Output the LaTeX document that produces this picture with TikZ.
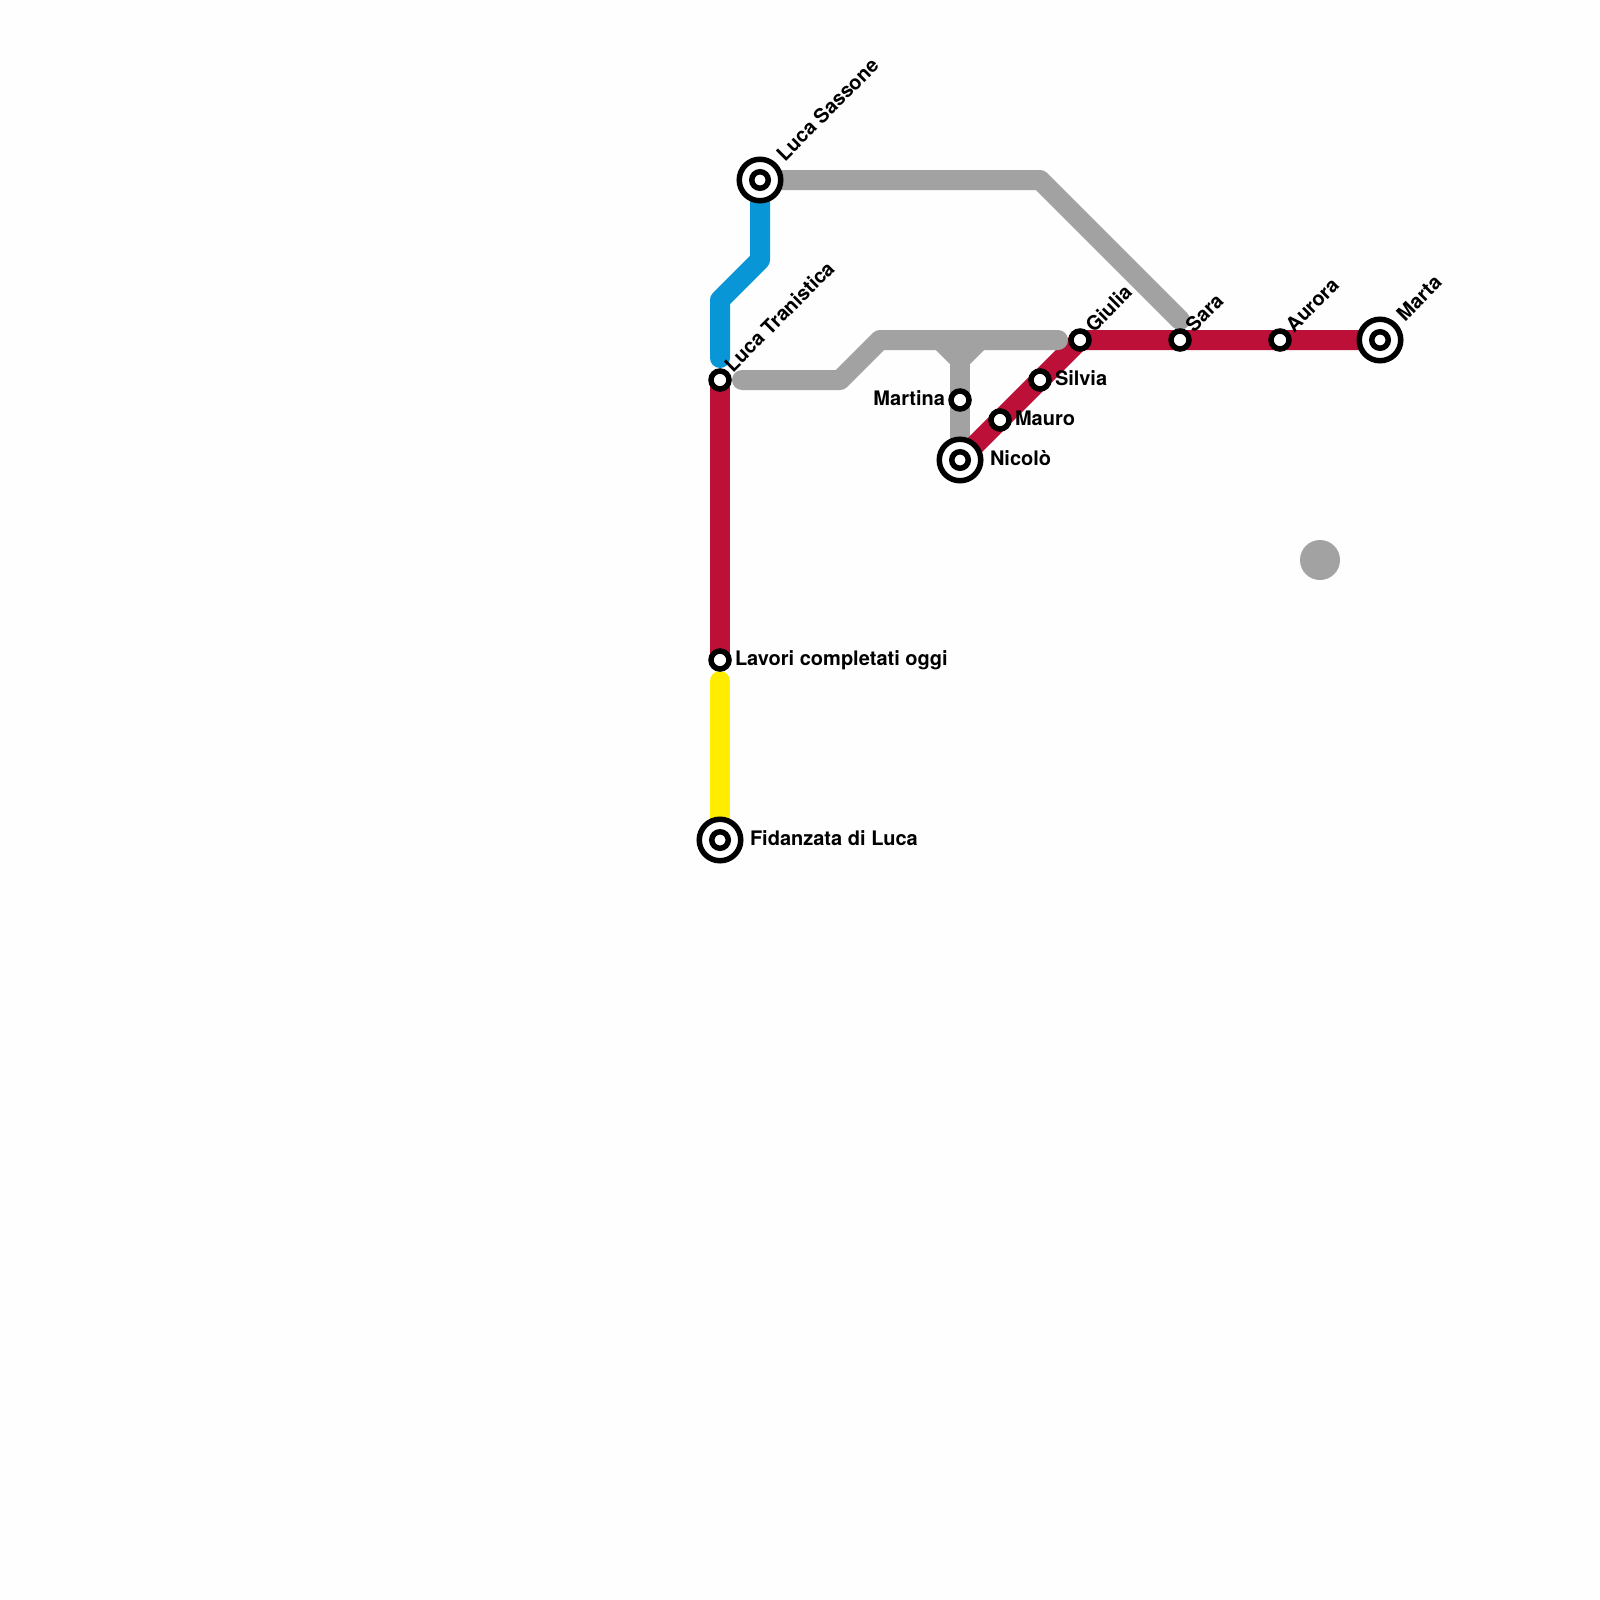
\documentclass[tikz,border=0pt]{standalone}
\usepackage{fontspec}
\setmainfont{TeX Gyre Heros}
\definecolor{tgrey}{HTML}{A2A2A2}
\definecolor{tred}{HTML}{BD1038}
\definecolor{tblue}{HTML}{0896D7}
\definecolor{tyellow}{HTML}{FFED00}
\definecolor{tbg}{HTML}{FEFEFE}
\tikzset{
  route/.style={line width=20pt,line cap=round,line join=round},
  stopmark/.style={circle,draw=black,fill=white,line width=5.5pt,minimum size=18pt,inner sep=0pt,outer sep=0pt},
  hubcore/.style={stopmark,minimum size=16.5pt},
  hubmark/.style={circle,draw=black,fill=white,line width=5.5pt,minimum size=41.5pt,inner sep=0pt,outer sep=0pt},
  lab/.style={font=\bfseries\fontsize{20}{24}\selectfont,inner sep=0pt,outer sep=0pt,text=black},
  labr/.style={lab,anchor=base west},
  labl/.style={lab,anchor=base east},
  labd/.style={lab,anchor=base west,rotate=45},
}
\begin{document}
\begin{tikzpicture}[x=1pt,y=-1pt]
\useasboundingbox (0,0) rectangle (1600,1600);
\fill[tbg] (0,0) rectangle (1600,1600);
% station positions
\coordinate (sassone) at (760,180);
\coordinate (tranistica) at (720,380);
\coordinate (lavori) at (720,660);
\coordinate (fidanzata) at (720,840);
\coordinate (nicolo) at (960,460);
\coordinate (martina) at (960,400);
\coordinate (mauro) at (1000,420);
\coordinate (silvia) at (1040,380);
\coordinate (giulia) at (1080,340);
\coordinate (sara) at (1180,340);
\coordinate (aurora) at (1280,340);
\coordinate (marta) at (1380,340);
% free ends and bends
\coordinate (g1) at (1040,180);
\coordinate (g2) at (1180,320);
\coordinate (g3) at (742,380);
\coordinate (g4) at (840,380);
\coordinate (g5) at (880,340);
\coordinate (g6) at (1058,340);
\coordinate (t0) at (960,340);
\coordinate (t1) at (940,340);
\coordinate (t2) at (980,340);
\coordinate (t3) at (960,360);
\coordinate (b1) at (760,260);
\coordinate (b2) at (720,300);
\coordinate (b3) at (720,358);
\coordinate (y1) at (720,681);
% lines
\draw[route,tblue] (sassone) -- (b1) -- (b2) -- (b3);
\draw[route,tyellow] (y1) -- (fidanzata);
\draw[route,tgrey] (sassone) -- (g1) -- (g2);
\draw[route,tgrey] (t1) -- (t3) -- (t2);
\draw[route,tgrey] (t0) -- (nicolo);
\draw[route,tred,line cap=butt] (tranistica) -- (lavori);
\draw[route,tred,line cap=butt] (nicolo) -- (giulia) -- (sara) -- (aurora) -- (marta);
\draw[route,tgrey] (g3) -- (g4) -- (g5) -- (g6);
\node[circle,fill=tgrey,minimum size=40pt,inner sep=0pt] (blob) at (1320,560) {};
% stations
\foreach \n in {tranistica,lavori,martina,mauro,silvia,giulia,sara,aurora}
  \node[stopmark] (st\n) at (\n) {};
\foreach \n in {sassone,fidanzata,nicolo,marta}{
  \node[hubmark] (hub\n) at (\n) {};
  \node[hubcore] (st\n) at (\n) {};
}
% labels
\node[labd] (lsassone) at (785,162) {Luca Sassone};
\node[labd] (ltranistica) at (733,373) {Luca Tranistica};
\node[labr] (llavori) at (735,665) {Lavori completati oggi};
\node[labr] (lfidanzata) at (750,845) {Fidanzata di Luca};
\node[labr] (lnicolo) at (990,465) {Nicolò};
\node[labl] (lmartina) at (945,405) {Martina};
\node[labr] (lmauro) at (1015,425) {Mauro};
\node[labr] (lsilvia) at (1055,385) {Silvia};
\node[labd] (lgiulia) at (1094,333) {Giulia};
\node[labd] (lsara) at (1194,333) {Sara};
\node[labd] (laurora) at (1294,333) {Aurora};
\node[labd] (lmarta) at (1405,322) {Marta};
\end{tikzpicture}
\end{document}
